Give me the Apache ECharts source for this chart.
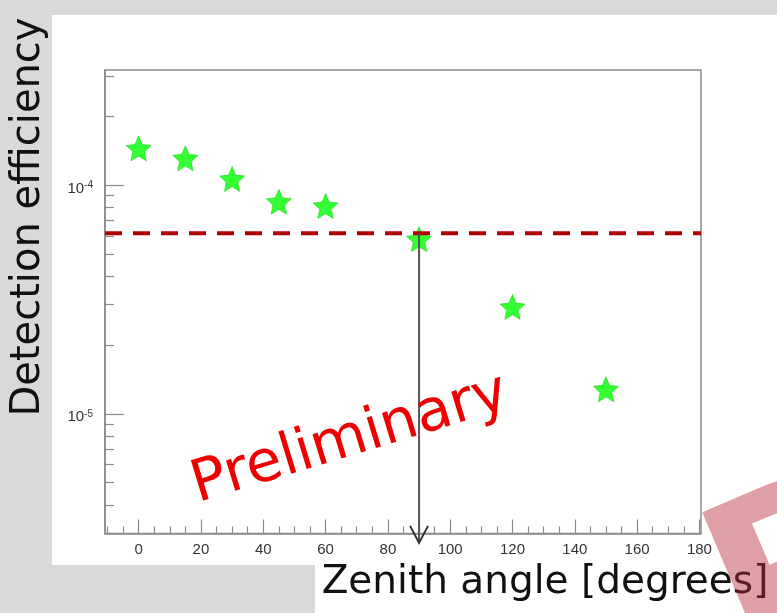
<!DOCTYPE html>
<html><head><meta charset="utf-8">
<script src="https://cdn.jsdelivr.net/npm/echarts@6/dist/echarts.min.js"></script>
<style>html,body{margin:0;padding:0;background:#d9d9d9}#c{width:777px;height:613px}</style>
</head><body><div id="c"></div>
<script>
const zenithAngles = [0, 15, 30, 45, 60, 90, 120, 150];
const efficiency = [1.446e-4, 1.308e-4, 1.062e-4, 0.845e-4, 0.810e-4, 0.58e-4, 2.93e-5, 1.28e-5];
const threshold = 6.15e-5;
const arrowX = 90, arrowFrom = 6.15e-5, arrowTo = 2.73e-6;
const xRange = [-10.8, 180.5];
const yRange = [3.0e-6, 3.18e-4];
const xMajorTicks = [0, 20, 40, 60, 80, 100, 120, 140, 160, 180];
const xMinorTicks = [-10, -5, 5, 10, 15, 25, 30, 35, 45, 50, 55, 65, 70, 75, 85, 90, 95, 105, 110, 115, 125, 130, 135, 145, 150, 155, 165, 170, 175];
const yMajorTicks = [1e-5, 1e-4];
const yMinorTicks = [3e-6, 4e-6, 5e-6, 6e-6, 7e-6, 8e-6, 9e-6, 2e-5, 3e-5, 4e-5, 5e-5, 6e-5, 7e-5, 8e-5, 9e-5, 2e-4, 3e-4];
const xTitle = 'Zenith angle [degrees]';
const yTitle = 'Detection efficiency';
const watermark = 'Preliminary';

const starPath = 'path://M50,0 L63.8,31 L97.6,34.6 L72.4,57.3 L79.4,90.5 L50,73.5 L20.6,90.5 L27.6,57.3 L2.4,34.6 L36.2,31 Z';
const axisGray = '#8a8a8a';

const chart = echarts.init(document.getElementById('c'), null, {renderer: 'canvas'});
chart.setOption({
  backgroundColor: '#d9d9d9',
  animation: false,
  grid: {left: 105, top: 70, right: 76, bottom: 79.5, show: true, backgroundColor: '#fff', borderColor: axisGray, borderWidth: 1.5, containLabel: false},
  xAxis: [{
    type: 'value', min: xRange[0], max: xRange[1], gridIndex: 0,
    axisLine: {show: true, onZero: false, lineStyle: {color: axisGray, width: 1.5}},
    axisTick: {show: true, inside: true, length: 14, customValues: xMajorTicks, lineStyle: {color: axisGray, width: 1.2}},
    axisLabel: {show: true, customValues: xMajorTicks, margin: 9, color: '#333', fontSize: 15, fontFamily: 'Liberation Sans'},
    splitLine: {show: false}
  }, {
    type: 'value', min: xRange[0], max: xRange[1], gridIndex: 0, position: 'bottom',
    axisLine: {show: false, onZero: false},
    axisTick: {show: true, inside: true, length: 7, customValues: xMinorTicks, lineStyle: {color: axisGray, width: 1.2}},
    axisLabel: {show: false},
    splitLine: {show: false}
  }],
  yAxis: [{
    type: 'log', logBase: 10, min: yRange[0], max: yRange[1], gridIndex: 0, position: 'left',
    axisLine: {show: true, onZero: false, lineStyle: {color: axisGray, width: 1.5}},
    axisTick: {show: true, inside: true, length: 19, customValues: yMajorTicks, lineStyle: {color: axisGray, width: 1.2}},
    axisLabel: {show: true, customValues: yMajorTicks, margin: 12, color: '#333', fontSize: 15, fontFamily: 'Liberation Sans',
      padding: [7, 0, 0, 0],
      formatter: function (v) { return '10{s|' + Math.round(Math.log10(v)) + '}'; },
      rich: {s: {fontSize: 10, verticalAlign: 'top', color: '#333', fontFamily: 'Liberation Sans', padding: [0, 0, 6, 0]}}},
    splitLine: {show: false}
  }, {
    type: 'log', logBase: 10, min: yRange[0], max: yRange[1], gridIndex: 0, position: 'left',
    axisLine: {show: false, onZero: false},
    axisTick: {show: true, inside: true, length: 9, customValues: yMinorTicks, lineStyle: {color: axisGray, width: 1.2}},
    axisLabel: {show: false},
    splitLine: {show: false}
  }],
  series: [{
    type: 'scatter', xAxisIndex: 0, yAxisIndex: 0, z: 2,
    symbol: starPath, symbolSize: 25,
    itemStyle: {color: '#00ff00', borderColor: '#00c800', borderWidth: 0.6},
    data: zenithAngles.map((a, i) => [a, efficiency[i]])
  }, {
    type: 'line', xAxisIndex: 0, yAxisIndex: 0, z: 3, silent: true,
    symbol: 'none',
    lineStyle: {color: '#b00000', width: 4, type: [17, 11]},
    data: [[xRange[0], threshold], [xRange[1], threshold]]
  }, {
    type: 'custom', xAxisIndex: 0, yAxisIndex: 0, z: 5, silent: true,
    data: [[arrowX, arrowFrom, arrowTo]],
    renderItem: function (params, api) {
      const p0 = api.coord([api.value(0), api.value(1)]);
      const p1 = api.coord([api.value(0), api.value(2)]);
      return {type: 'group', children: [
        {type: 'line', shape: {x1: p0[0], y1: p0[1], x2: p1[0], y2: p1[1]}, style: {stroke: '#555', lineWidth: 2}},
        {type: 'polyline', shape: {points: [[p1[0] - 9, p1[1] - 17], [p1[0], p1[1]], [p1[0] + 9, p1[1] - 17]]}, style: {stroke: '#333', lineWidth: 2, fill: null}}
      ]};
    }
  }],
  graphic: [
    {type: 'rect', z: -10, shape: {x: 52, y: 15, width: 725, height: 550}, style: {fill: '#fff'}},
    {type: 'rect', z: -10, shape: {x: 315, y: 565, width: 462, height: 48}, style: {fill: '#fff'}},
    {type: 'text', z: 10, x: 350, y: 440, rotation: 17 * Math.PI / 180,
      style: {text: watermark, fill: '#ee0000', fontSize: 58, fontFamily: 'DejaVu Sans', textAlign: 'center', textVerticalAlign: 'middle'}},
    {type: 'text', z: 10, x: 28.5, y: 217, rotation: Math.PI / 2,
      style: {text: yTitle, fill: '#111', fontSize: 40, fontFamily: 'DejaVu Sans', textAlign: 'center', textVerticalAlign: 'middle'}},
    {type: 'text', z: 10, x: 545, y: 583,
      style: {text: xTitle, fill: '#111', fontSize: 39, fontFamily: 'DejaVu Sans', textAlign: 'center', textVerticalAlign: 'middle'}},
    {type: 'text', z: 20, x: 681, y: 514, rotation: 23 * Math.PI / 180,
      style: {text: 'P', fill: 'rgba(184,44,55,0.45)', fontSize: 220, fontWeight: 'bold', fontFamily: 'DejaVu Sans', textAlign: 'left', textVerticalAlign: 'top'}}
  ]
});
</script></body></html>
